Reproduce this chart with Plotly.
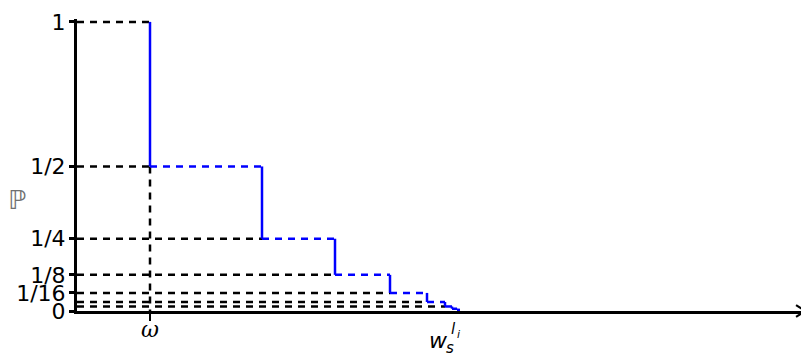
import plotly.graph_objects as go

# ---- data ----
levels = [1, 1/2, 1/4, 1/8, 1/16, 1/32, 1/64, 1/128, 1/256]
step_x = [0.73, 1.85, 2.58, 3.13, 3.50, 3.68, 3.75, 3.80, 3.83]
omega_x = 0.73
w_x = 3.83
ytick_vals = [1, 1/2, 1/4, 1/8, 1/16, 0]
ytick_text = ["1", "1/2", "1/4", "1/8", "1/16", "0"]
n_guides = 7  # dashed guide lines for levels[0..6]

BLUE = "#0000FF"
DASH = "7px,6px"

fig = go.Figure()

# black dashed guides
gx, gy = [], []
for k in range(n_guides):
    end = step_x[0] if k == 0 else step_x[k - 1]
    gx += [0, end, None]
    gy += [levels[k], levels[k], None]
gx += [omega_x, omega_x, None]
gy += [levels[1], 0, None]
fig.add_trace(go.Scatter(x=gx, y=gy, mode="lines",
                         line=dict(color="black", width=2.5, dash=DASH),
                         hoverinfo="skip", showlegend=False))

# blue staircase: solid verticals, dashed horizontals
vx, vy, hx, hy = [], [], [], []
for k in range(len(levels) - 1):
    vx += [step_x[k], step_x[k], None]
    vy += [levels[k], levels[k + 1], None]
    hx += [step_x[k], step_x[k + 1], None]
    hy += [levels[k + 1], levels[k + 1], None]
fig.add_trace(go.Scatter(x=hx, y=hy, mode="lines",
                         line=dict(color=BLUE, width=2.5, dash=DASH),
                         hoverinfo="skip", showlegend=False))
fig.add_trace(go.Scatter(x=vx, y=vy, mode="lines",
                         line=dict(color=BLUE, width=2.5),
                         hoverinfo="skip", showlegend=False))

# arrow head at right end of x axis
fig.add_shape(type="path", xref="paper", yref="paper",
              path="M 0.985,0.02 L 0.998,0 L 0.985,-0.02",
              line=dict(color="black", width=2.2))

# P label
fig.add_annotation(x=-0.082, y=0.38, xref="paper", yref="paper",
                   xanchor="center", yanchor="middle", showarrow=False,
                   text="ℙ", font=dict(family="DejaVu Sans", size=26, color="#707070"))

# w_s^{l_i} label
fig.add_annotation(x=w_x - 0.22, y=-0.10, xref="x", yref="paper", showarrow=False,
                   xanchor="center", yanchor="middle",
                   text="<i>w</i>", font=dict(family="DejaVu Sans", size=22, color="black"))
fig.add_annotation(x=w_x - 0.10, y=-0.125, xref="x", yref="paper", showarrow=False,
                   xanchor="center", yanchor="middle",
                   text="<i>s</i>", font=dict(family="DejaVu Sans", size=15, color="black"))
fig.add_annotation(x=w_x - 0.07, y=-0.062, xref="x", yref="paper", showarrow=False,
                   xanchor="center", yanchor="middle",
                   text="<i>l</i>", font=dict(family="DejaVu Sans", size=15, color="black"))
fig.add_annotation(x=w_x - 0.02, y=-0.082, xref="x", yref="paper", showarrow=False,
                   xanchor="center", yanchor="middle",
                   text="<i>i</i>", font=dict(family="DejaVu Sans", size=11, color="black"))

fig.update_layout(
    width=801, height=347,
    margin=dict(l=69, r=2, t=6, b=44),
    plot_bgcolor="white", paper_bgcolor="white",
    xaxis=dict(range=[0, 7.30], showgrid=False, zeroline=False,
               showline=True, linecolor="black", linewidth=3,
               tickvals=[omega_x], ticktext=["<i>ω</i>"],
               ticks="outside", ticklen=7, tickwidth=2, tickcolor="black",
               tickfont=dict(family="DejaVu Serif", size=22, color="black"),
               ticklabelstandoff=-10),
    yaxis=dict(range=[0, 1.01], showgrid=False, zeroline=False,
               showline=True, linecolor="black", linewidth=3,
               tickvals=ytick_vals, ticktext=ytick_text,
               ticks="outside", ticklen=5, tickwidth=2.5, tickcolor="black",
               tickfont=dict(family="DejaVu Sans", size=22, color="black"),
               ticklabelstandoff=-1, ticklabeloverflow="allow"),
)

fig.write_html("out.html")
